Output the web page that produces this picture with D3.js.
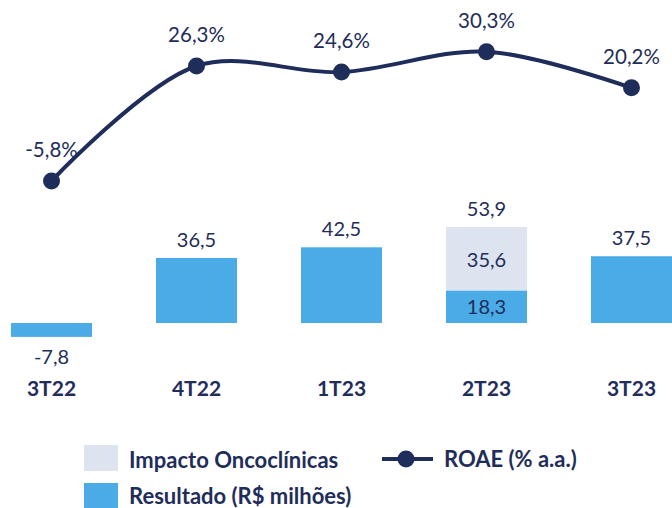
<!DOCTYPE html>
<html>
<head>
<meta charset="utf-8">
<script src="https://cdn.jsdelivr.net/npm/d3@7"></script>
<style>
  body { margin: 0; background: #fff; }
  svg { display: block; font-family: Lato, "Open Sans", sans-serif; }
</style>
</head>
<body>
<div class="chart"></div>
<script>
// data
var quarters = ["3T22", "4T22", "1T23", "2T23", "3T23"];
var resultado = [-7.8, 36.5, 42.5, 18.3, 37.5];
var impacto = [0, 0, 0, 35.6, 0];
var roae = [-5.8, 26.3, 24.6, 30.3, 20.2];

var navy = "#1f2d5a";
var blue = "#4aabe6";
var light = "#dde4ef";
var fmt = function(v) { return v.toFixed(1).replace(".", ","); };

var w = 672, h = 508;
var svg = d3.select(".chart").append("svg")
    .attr("width", w)
    .attr("height", h);

// x band (last bar runs off the right edge)
var x = d3.scaleBand()
    .domain(quarters)
    .range([-21, 704])
    .paddingInner(0.4414)
    .paddingOuter(0.2207);

// bars y scale (R$ milhões)
var yBar = d3.scaleLinear()
    .domain([0, 36.5])
    .range([323, 258]);

// line y scale (% a.a.)
var yLine = d3.scaleLinear()
    .domain([-5.8, 26.3])
    .range([181, 66]);

var bars = quarters.map(function(q, i) {
  return { q: q, r: resultado[i], imp: impacto[i], total: resultado[i] + impacto[i] };
});

// resultado bars
svg.append("g")
  .selectAll("rect")
  .data(bars)
  .join("rect")
  .attr("x", d => x(d.q))
  .attr("width", x.bandwidth())
  .attr("y", d => yBar(Math.max(0, d.r)))
  .attr("height", d => Math.abs(yBar(d.r) - yBar(0)))
  .style("fill", blue);

// impacto stacked on top
svg.append("g")
  .selectAll("rect")
  .data(bars.filter(d => d.imp > 0))
  .join("rect")
  .attr("x", d => x(d.q))
  .attr("width", x.bandwidth())
  .attr("y", d => yBar(d.total))
  .attr("height", d => yBar(d.r) - yBar(d.total))
  .style("fill", light);

// value labels
var lbl = svg.append("g")
  .style("font-size", "20px")
  .style("fill", navy)
  .attr("text-anchor", "middle");

bars.forEach(function(d) {
  var cx = x(d.q) + x.bandwidth() / 2;
  if (d.imp > 0) {
    lbl.append("text").attr("x", cx).attr("y", yBar(d.total) - 11).text(fmt(d.total));
    lbl.append("text").attr("x", cx).attr("y", (yBar(d.total) + yBar(d.r)) / 2 + 8).text(fmt(d.imp));
    lbl.append("text").attr("x", cx).attr("y", (yBar(d.r) + yBar(0)) / 2 + 7).text(fmt(d.r));
  } else if (d.r < 0) {
    lbl.append("text").attr("x", cx).attr("y", yBar(d.r) + 27).text(fmt(d.r));
  } else {
    lbl.append("text").attr("x", cx).attr("y", yBar(d.r) - 11).text(fmt(d.r));
  }
});

// category labels
svg.append("g")
  .selectAll("text")
  .data(quarters)
  .join("text")
  .attr("x", d => x(d) + x.bandwidth() / 2)
  .attr("y", 396)
  .attr("text-anchor", "middle")
  .style("font-size", "21px")
  .style("font-weight", "bold")
  .style("fill", navy)
  .text(d => d);

// ROAE line
var pts = quarters.map((q, i) => [x(q) + x.bandwidth() / 2, yLine(roae[i])]);
var line = d3.line().curve(d3.curveCatmullRom.alpha(0.5));

svg.append("path")
  .attr("d", line(pts))
  .attr("fill", "none")
  .attr("stroke", navy)
  .attr("stroke-width", 4);

svg.append("g")
  .selectAll("circle")
  .data(pts)
  .join("circle")
  .attr("cx", d => d[0])
  .attr("cy", d => d[1])
  .attr("r", 8.5)
  .style("fill", navy);

svg.append("g")
  .selectAll("text")
  .data(roae)
  .join("text")
  .attr("x", (d, i) => pts[i][0])
  .attr("y", (d, i) => pts[i][1] - 24)
  .attr("text-anchor", "middle")
  .style("font-size", "20.5px")
  .style("fill", navy)
  .text(d => fmt(d) + "%");

// legend
var leg = svg.append("g")
  .style("font-size", "22px")
  .style("font-weight", "bold")
  .style("fill", navy);

leg.append("rect").attr("x", 84).attr("y", 445).attr("width", 34).attr("height", 26).style("fill", light);
leg.append("text").attr("x", 129).attr("y", 468).text("Impacto Oncoclínicas");
leg.append("rect").attr("x", 84).attr("y", 483).attr("width", 34).attr("height", 25).style("fill", blue);
leg.append("text").attr("x", 129).attr("y", 504).text("Resultado (R$ milhões)");

leg.append("line").attr("x1", 382).attr("x2", 433).attr("y1", 459).attr("y2", 459)
  .attr("stroke", navy).attr("stroke-width", 4);
leg.append("circle").attr("cx", 406).attr("cy", 459).attr("r", 8.5).style("fill", navy);
leg.append("text").attr("x", 444).attr("y", 467).text("ROAE (% a.a.)");
</script>
</body>
</html>
